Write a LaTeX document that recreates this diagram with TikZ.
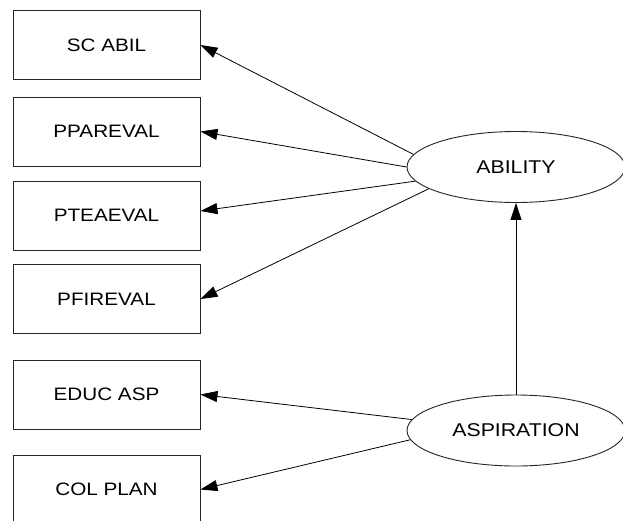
\documentclass[tikz,border=0pt]{standalone}
\usepackage{fontspec}
\usepackage{graphicx}
\setmainfont{Liberation Sans}
\usetikzlibrary{arrows.meta,shapes.geometric}

% labels are set slightly wider than the font's natural width
\newcommand{\widelabel}[1]{\scalebox{1.15}[1]{#1}}

\tikzset{
  indicator/.style={draw=black!85, line width=0.9pt, rectangle,
    minimum width=187pt, minimum height=69pt, inner sep=0pt,
    font=\fontsize{18}{21}\selectfont},
  latent/.style={draw=black!85, line width=0.9pt, ellipse,
    minimum width=218pt, minimum height=71pt, inner sep=0pt,
    font=\fontsize{18.5}{21}\selectfont},
  path/.style={draw=black, line width=0.8pt,
    -{Triangle[length=17pt,width=11pt]}},
}

\begin{document}
\begin{tikzpicture}[x=1pt,y=-1pt]
  \useasboundingbox (0,0) rectangle (623,520);
  \fill[white] (0,0) rectangle (623,520);

  % observed indicators
  \node[indicator] (scabil)   at (106.5, 45)    {\widelabel{SC ABIL}};
  \node[indicator] (pparev)   at (106.5, 131.5) {\widelabel{PPAREVAL}};
  \node[indicator] (pteaev)   at (106.5, 215.5) {\widelabel{PTEAEVAL}};
  \node[indicator] (pfirev)   at (106.5, 299)   {\widelabel{PFIREVAL}};
  \node[indicator] (educasp)  at (106.5, 394.5) {\widelabel{EDUC ASP}};
  \node[indicator] (colplan)  at (106.5, 489.5) {\widelabel{COL PLAN}};

  % latent factors
  \node[latent] (ability)    at (516, 167) {\widelabel{ABILITY}};
  \node[latent] (aspiration) at (516, 430.5) {\widelabel{ASPIRATION}};

  % loadings of ABILITY
  \draw[path] (ability.173) -- (scabil.east);
  \draw[path] (ability.180) -- (pparev.east);
  \draw[path] (ability.188) -- ([yshift=4.5pt]pteaev.east);
  \draw[path] (ability.194) -- (pfirev.east);

  % loadings of ASPIRATION
  \draw[path] (aspiration.174) -- (educasp.east);
  \draw[path] (aspiration.185) -- (colplan.east);

  % structural path
  \draw[path] (aspiration.north) -- (ability.south);
\end{tikzpicture}
\end{document}
